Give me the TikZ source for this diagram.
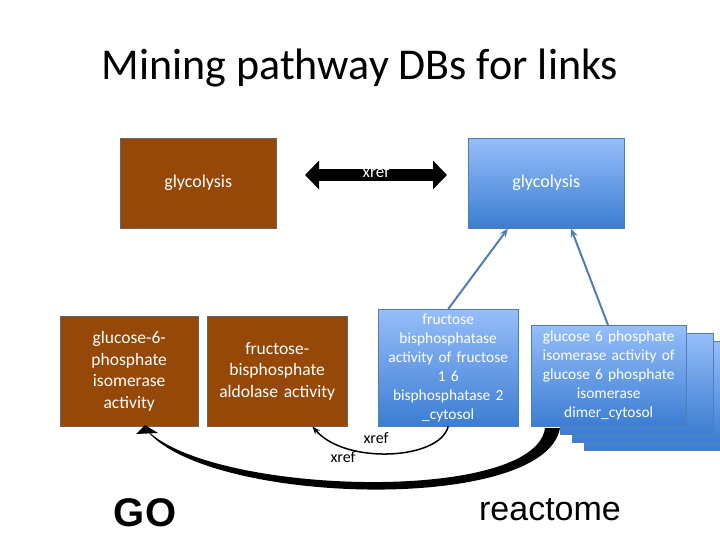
\documentclass[tikz,border=0pt]{standalone}
\usepackage{fontspec}
\setmainfont{Carlito}
\newfontfamily\arialf{Liberation Sans}
\usetikzlibrary{arrows.meta}
\definecolor{brownbox}{RGB}{150,72,8}
\definecolor{bluetop}{RGB}{150,190,250}
\definecolor{bluebot}{RGB}{60,125,210}
\definecolor{blueline}{RGB}{80,125,180}
\begin{document}
\begin{tikzpicture}[x=1pt,y=-1pt,
  brownb/.style={draw=gray!80!black, fill=brownbox, text=white, align=center, inner sep=2pt, anchor=north west},
  blueb/.style={draw=blueline, top color=bluetop, bottom color=bluebot, text=white, align=center, inner sep=2pt, anchor=north west},
  link/.style={blueline, line width=2pt, -{Stealth[length=9pt,width=7pt]}}]
\useasboundingbox (0,0) rectangle (720,540);
\node[font=\fontsize{44}{48}\selectfont] (title) at (360,68) {Mining pathway DBs for links};
% top
\node[brownb, minimum width=156, minimum height=90, font=\fontsize{18}{21}\selectfont] (gl) at (120,138) {glycolysis};
\node[blueb, minimum width=156, minimum height=90, font=\fontsize{18}{21}\selectfont] (gr) at (468,138) {glycolysis};
\coordinate (xa) at (305,175);
\coordinate (xb) at (447,175);
\draw[line width=12pt, {Triangle[length=14pt,width=28pt]}-{Triangle[length=14pt,width=28pt]}] (xa) -- (xb);
\node[white, font=\fontsize{17}{20}\selectfont] (xt) at (376,172) {xref};
% bottom left
\node[brownb, minimum width=138, minimum height=110, text width=134, font=\fontsize{17.5}{21.5}\selectfont] (g6) at (60,316) {glucose-6-\\phosphate\\isomerase\\activity};
\node[brownb, minimum width=138, minimum height=110, text width=136, font=\fontsize{17.5}{21.5}\selectfont] (fa) at (207,316) {fructose-\\bisphosphate\\aldolase activity};
% bottom right
\node[blueb, minimum width=138, minimum height=117, text width=136, font=\fontsize{15.4}{19}\selectfont] (fb) at (378,309) {fructose\\bisphosphatase\\activity of fructose\\1 6\\bisphosphatase 2\\\_cytosol};
\node[blueb, minimum width=153, minimum height=101] (s3) at (584,349) {};
\node[blueb, minimum width=153, minimum height=101] (s2) at (572,341) {};
\node[blueb, minimum width=153, minimum height=101] (s1) at (560,333) {};
\node[blueb, minimum width=153, minimum height=101, text width=151, font=\fontsize{15.4}{19}\selectfont] (gi) at (531,325) {glucose 6 phosphate\\isomerase activity of\\glucose 6 phosphate\\isomerase\\dimer\_cytosol};
\draw[link] (fb.north) -- ([xshift=40]gr.south west);
\draw[link] ([xshift=77]gi.north west) -- ([xshift=103]gr.south west);
% arcs
\coordinate (ga) at (555,428);
\coordinate (gb) at (145,428);
\fill[black] (560,428) .. controls (545,515) and (200,505) .. (gb)
  .. controls (205,495) and (535,505) .. (545,428) -- cycle;
\fill[black] (gb) ++(0,-3) -- ++(-9,9) -- ++(22,-1) -- cycle;
\draw[black, line width=1.5pt, -{Stealth[length=8pt]}] (fb.south) .. controls (440,460) and (345,465) .. ([xshift=-35]fa.south east);
\node[font=\fontsize{16}{19}\selectfont] (x1) at (376,438) {xref};
\node[font=\fontsize{16}{19}\selectfont] (x2) at (343,457) {xref};
\node[font=\arialf\bfseries\fontsize{40}{44}\selectfont] (go) at (145,513) {GO};
\node[font=\arialf\fontsize{34}{38}\selectfont] (re) at (550,510) {reactome};
\end{tikzpicture}
\end{document}
